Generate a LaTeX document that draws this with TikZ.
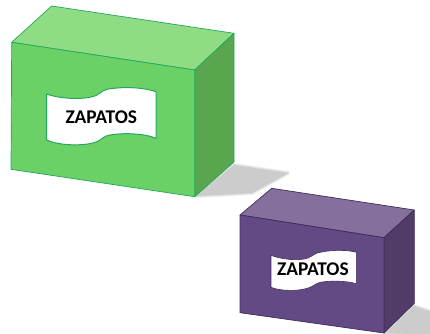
\documentclass[tikz,border=0pt]{standalone}
\usepackage{fontspec}
\setmainfont{Carlito}
\definecolor{gfront}{HTML}{6BD166}
\definecolor{gtop}{HTML}{8FDC85}
\definecolor{gside}{HTML}{5AA64F}
\definecolor{gline}{HTML}{22A85A}
\definecolor{pfront}{HTML}{644A84}
\definecolor{ptop}{HTML}{85709D}
\definecolor{pside}{HTML}{503C66}
\definecolor{pline}{HTML}{3F2D58}
\definecolor{shadowgrey}{HTML}{CCCCCC}
\tikzset{
  gface/.style={draw=gline,line width=0.7pt,line join=round},
  pface/.style={draw=pline,line width=0.7pt,line join=round},
  softa/.style={draw=shadowgrey,fill=shadowgrey,line join=round,opacity=0.3,line width=4pt},
  softb/.style={draw=shadowgrey,fill=shadowgrey,line join=round,opacity=0.5,line width=2pt},
  softc/.style={fill=shadowgrey},
  labeltext/.style={font=\fontsize{19.4}{21}\selectfont\bfseries,text=black,inner sep=0pt}
}
\begin{document}
\begin{tikzpicture}[x=1pt,y=-1pt]
\useasboundingbox (0,0) rectangle (430,333);
% shadows
\path[softa] (196,196) -- (234,165) -- (288,173) -- (252,193) -- cycle;
\path[softb] (196,196) -- (234,165) -- (288,173) -- (252,193) -- cycle;
\path[softc] (196,196) -- (234,165) -- (288,173) -- (252,193) -- cycle;
\path[softa] (386,333) -- (414,306) -- (432,312) -- (432,335) -- cycle;
\path[softb] (386,333) -- (414,306) -- (432,312) -- (432,335) -- cycle;
\path[softc] (386,333) -- (414,306) -- (432,312) -- (432,335) -- cycle;
% green box
\filldraw[gface,fill=gtop] (11.7,42.3) -- (51.7,6) -- (234,33.3) -- (194.7,70) -- cycle;
\filldraw[gface,fill=gside] (194.7,70) -- (234,33.3) -- (234,162) -- (194.7,196.7) -- cycle;
\filldraw[gface,fill=gfront] (11.7,42.3) -- (194.7,70) -- (194.7,196.7) -- (11,169.3) -- cycle;
\filldraw[draw=gline,fill=white,line width=1pt,line join=round]
  (46.7,94) .. controls (58,98.5) and (84,100.5) .. (96,95.5)
  .. controls (102,92.5) and (102,89.5) .. (112,88.5)
  .. controls (128,86.5) and (146,88) .. (156,91.7)
  -- (156,138.5)
  .. controls (146,133.5) and (124,132.5) .. (110,135)
  .. controls (102,136.5) and (102,140) .. (96,142)
  .. controls (84,146.5) and (58,145.5) .. (46.7,140) -- cycle;
\node[labeltext] (gl) at (101.3,116.7) {ZAPATOS};
% purple box
\filldraw[pface,fill=ptop] (240,215) -- (271.7,188.3) -- (414.3,210) -- (384,237.7) -- cycle;
\filldraw[pface,fill=pside] (384,237.7) -- (414.3,210) -- (414.3,303.3) -- (384,333) -- cycle;
\filldraw[pface,fill=pfront] (240,215) -- (384,237.7) -- (384,333) -- (240,312.7) -- cycle;
\filldraw[draw=pline,fill=white,line width=0.6pt,line join=round]
  (271,255.3) .. controls (280,259) and (298,261.5) .. (308,258)
  .. controls (314,255.5) and (314,253) .. (322,252)
  .. controls (334,249.5) and (348,250) .. (356.3,252.3)
  -- (356.3,283.7)
  .. controls (348,281) and (332,280.5) .. (322,282)
  .. controls (314,283.5) and (314,286.5) .. (308,288)
  .. controls (298,291.5) and (280,291) .. (271,287.3) -- cycle;
\node[labeltext] (pl) at (313,269.5) {ZAPATOS};
\end{tikzpicture}
\end{document}
